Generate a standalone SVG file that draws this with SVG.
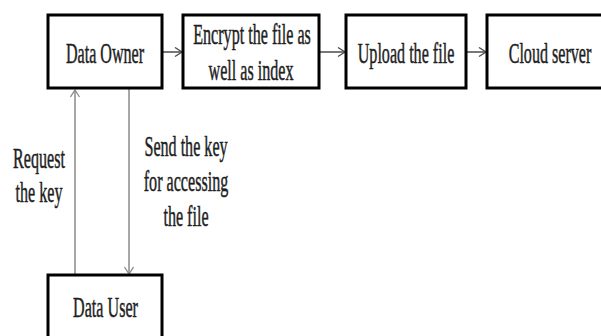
<svg xmlns="http://www.w3.org/2000/svg" width="601" height="336" viewBox="0 0 601 336">
<style>
.box{fill:#fff;stroke:#000;stroke-width:3}
.t{font-family:"Liberation Serif","Times New Roman",serif;font-size:30px;fill:#1e1e1e;stroke:#1e1e1e;stroke-width:0.5;text-anchor:middle}
.h{fill:none;stroke:#4a4a4a;stroke-width:1.5}
.v{fill:none;stroke:#8a8a8a;stroke-width:1.5}
</style>
<defs>
<marker id="ah" markerUnits="userSpaceOnUse" markerWidth="10" markerHeight="12" refX="8" refY="5" orient="auto">
<path d="M1,0.5 L8,5 L1,9.5" fill="none" stroke="#4a4a4a" stroke-width="1.3"/>
</marker>
<marker id="av" markerUnits="userSpaceOnUse" markerWidth="10" markerHeight="12" refX="8" refY="5" orient="auto">
<path d="M1,0.5 L8,5 L1,9.5" fill="none" stroke="#8a8a8a" stroke-width="1.3"/>
</marker>
</defs>
<rect width="601" height="336" fill="#fff"/>
<g id="connectors">
<line class="h" x1="162" y1="52" x2="182" y2="52" marker-end="url(#ah)"/>
<line class="h" x1="319" y1="52" x2="345" y2="52" marker-end="url(#ah)"/>
<line class="h" x1="466" y1="52" x2="486" y2="52" marker-end="url(#ah)"/>
<line class="v" x1="75" y1="274" x2="75" y2="90" marker-end="url(#av)"/>
<line class="v" x1="129" y1="89" x2="129" y2="274" marker-end="url(#av)"/>
<g id="label-request">
<text class="t" transform="translate(39,168) scale(0.537,1)">Request</text>
<text class="t" transform="translate(39,202) scale(0.537,1)">the key</text>
</g>
<g id="label-send">
<text class="t" transform="translate(186,156) scale(0.537,1)">Send the key</text>
<text class="t" transform="translate(186,191) scale(0.537,1)">for accessing</text>
<text class="t" transform="translate(186,226) scale(0.537,1)">the file</text>
</g>
</g>
<g id="data-owner">
<rect class="box" x="48" y="15" width="114" height="73"/>
<text class="t" transform="translate(105,63) scale(0.537,1)">Data Owner</text>
</g>
<g id="encrypt">
<rect class="box" x="183" y="15" width="136" height="73"/>
<text class="t" transform="translate(252,44) scale(0.537,1)">Encrypt the file as</text>
<text class="t" transform="translate(251,80) scale(0.537,1)">well as index</text>
</g>
<g id="upload">
<rect class="box" x="346" y="15" width="120" height="73"/>
<text class="t" transform="translate(406,63) scale(0.537,1)">Upload the file</text>
</g>
<g id="cloud-server">
<rect class="box" x="487" y="15" width="130" height="73"/>
<text class="t" transform="translate(550,63) scale(0.537,1)">Cloud server</text>
</g>
<g id="data-user">
<rect class="box" x="48" y="275" width="114" height="80"/>
<text class="t" transform="translate(105.5,317) scale(0.537,1)">Data User</text>
</g>
</svg>
